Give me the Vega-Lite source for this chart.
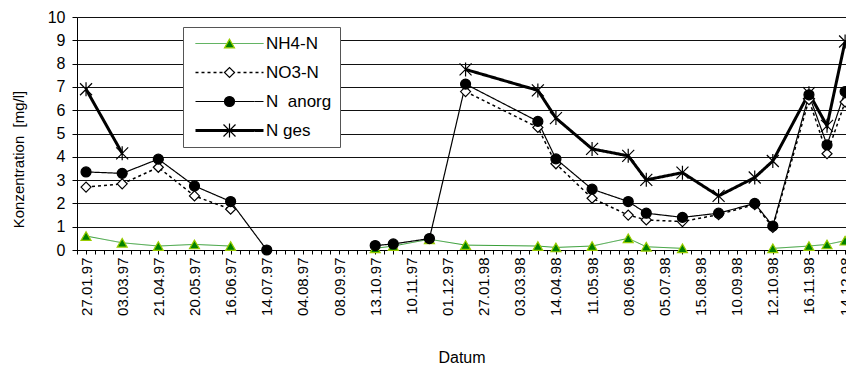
{
  "$schema": "https://vega.github.io/schema/vega-lite/v6.json",
  "width": 769,
  "height": 233,
  "autosize": {"type": "none"},
  "padding": {"left": 77, "top": 17, "right": 0, "bottom": 130},
  "background": "white",
  "config": {
    "font": "Liberation Sans",
    "view": {"stroke": null},
    "axis": {"labelColor": "#000", "titleColor": "#000", "domainColor": "#000", "tickColor": "#000", "titleFontWeight": "normal"}
  },
  "data": {
    "values": [
      {"Probe": 0, "Datum": "27.01.97", "NH4-N": 0.6, "NO3-N": 2.7, "N anorg": 3.35, "N ges": 6.9},
      {"Probe": 4, "Datum": "03.03.97", "NH4-N": 0.31, "NO3-N": 2.84, "N anorg": 3.29, "N ges": 4.15},
      {"Probe": 8, "Datum": "21.04.97", "NH4-N": 0.17, "NO3-N": 3.55, "N anorg": 3.9, "N ges": null},
      {"Probe": 12, "Datum": "20.05.97", "NH4-N": 0.24, "NO3-N": 2.32, "N anorg": 2.75, "N ges": null},
      {"Probe": 16, "Datum": "16.06.97", "NH4-N": 0.17, "NO3-N": 1.75, "N anorg": 2.08, "N ges": null},
      {"Probe": 20, "Datum": "14.07.97", "NH4-N": null, "NO3-N": null, "N anorg": 0, "N ges": null},
      {"Probe": 24, "Datum": "04.08.97", "NH4-N": null, "NO3-N": null, "N anorg": null, "N ges": null},
      {"Probe": 32, "Datum": "13.10.97", "NH4-N": 0.07, "NO3-N": null, "N anorg": 0.19, "N ges": null},
      {"Probe": 34, "Datum": "27.10.97", "NH4-N": 0.17, "NO3-N": null, "N anorg": 0.26, "N ges": null},
      {"Probe": 38, "Datum": "24.11.97", "NH4-N": 0.46, "NO3-N": null, "N anorg": 0.49, "N ges": null},
      {"Probe": 42, "Datum": "05.01.98", "NH4-N": 0.21, "NO3-N": 6.8, "N anorg": 7.12, "N ges": 7.75},
      {"Probe": 50, "Datum": "24.03.98", "NH4-N": 0.17, "NO3-N": 5.26, "N anorg": 5.52, "N ges": 6.85},
      {"Probe": 52, "Datum": "14.04.98", "NH4-N": 0.11, "NO3-N": 3.7, "N anorg": 3.91, "N ges": 5.66},
      {"Probe": 56, "Datum": "11.05.98", "NH4-N": 0.17, "NO3-N": 2.22, "N anorg": 2.61, "N ges": 4.34},
      {"Probe": 60, "Datum": "08.06.98", "NH4-N": 0.5, "NO3-N": 1.5, "N anorg": 2.08, "N ges": 4.04},
      {"Probe": 62, "Datum": "22.06.98", "NH4-N": 0.14, "NO3-N": 1.29, "N anorg": 1.58, "N ges": 3.01},
      {"Probe": 66, "Datum": "27.07.98", "NH4-N": 0.07, "NO3-N": 1.22, "N anorg": 1.4, "N ges": 3.32},
      {"Probe": 70, "Datum": "27.08.98", "NH4-N": null, "NO3-N": 1.52, "N anorg": 1.58, "N ges": 2.32},
      {"Probe": 74, "Datum": "28.09.98", "NH4-N": null, "NO3-N": 1.95, "N anorg": 2.0, "N ges": 3.11},
      {"Probe": 76, "Datum": "12.10.98", "NH4-N": 0.07, "NO3-N": 0.97, "N anorg": 1.03, "N ges": 3.82},
      {"Probe": 80, "Datum": "16.11.98", "NH4-N": 0.17, "NO3-N": 6.45, "N anorg": 6.66, "N ges": 6.73},
      {"Probe": 82, "Datum": "30.11.98", "NH4-N": 0.24, "NO3-N": 4.13, "N anorg": 4.51, "N ges": 5.33},
      {"Probe": 84, "Datum": "14.12.98", "NH4-N": 0.4, "NO3-N": 6.35, "N anorg": 6.8, "N ges": 8.95}
    ]
  },
  "transform": [
    {"fold": ["NH4-N", "NO3-N", "N anorg", "N ges"], "as": ["Reihe", "Wert"]}
  ],
  "encoding": {
    "x": {
      "field": "Probe", "type": "quantitative", "title": "Datum",
      "scale": {"domain": [-1, 84.1], "nice": false, "zero": false},
      "axis": {
        "tickCount": 85, "grid": false, "tickSize": 4, "labelAngle": -90, "labelFontSize": 15, "labelPadding": 3,
        "labelOverlap": false, "labelFlush": false, "labelBound": false,
        "labelExpr": "datum.value >= 0 && datum.value % 4 == 0 ? ['27.01.97','03.03.97','21.04.97','20.05.97','16.06.97','14.07.97','04.08.97','08.09.97','13.10.97','10.11.97','01.12.97','27.01.98','03.03.98','14.04.98','11.05.98','08.06.98','05.07.98','15.08.98','10.09.98','12.10.98','16.11.98','14.12.98'][datum.value / 4] : ''",
        "titleFontSize": 16, "titlePadding": 34
      }
    },
    "y": {
      "field": "Wert", "type": "quantitative", "title": "Konzentration\u00a0 [mg/l]",
      "scale": {"domain": [0, 10], "nice": false},
      "axis": {
        "values": [0, 1, 2, 3, 4, 5, 6, 7, 8, 9, 10], "grid": true, "gridColor": "#111", "gridWidth": 1,
        "tickSize": 5, "labelFontSize": 16, "labelPadding": 7,
        "titleFontSize": 15, "titleX": -54, "titleY": 142, "titleBaseline": "alphabetic", "titleAngle": 270
      }
    }
  },
  "layer": [
    {
      "mark": {"type": "line", "interpolate": "linear"},
      "encoding": {
        "color": {
          "field": "Reihe", "type": "nominal",
          "scale": {"domain": ["NH4-N", "NO3-N", "N anorg", "N ges"], "range": ["#2e9a2e", "#000000", "#000000", "#000000"]},
          "legend": {
            "title": null, "orient": "none", "legendX": 106, "legendY": 10,
            "fillColor": "white", "strokeColor": "#555", "padding": 8, "rowPadding": 11,
            "symbolType": "M-6.8,0H6.8", "symbolSize": 100, "symbolOffset": 30, "labelOffset": 28,
            "labelFontSize": 17, "labelColor": "#000",
            "labelExpr": "datum.label == 'N anorg' ? 'N\u00a0 anorg' : datum.label"
          }
        },
        "strokeDash": {
          "field": "Reihe", "type": "nominal",
          "scale": {"domain": ["NH4-N", "NO3-N", "N anorg", "N ges"], "range": [[1, 0], [3, 3], [1, 0], [1, 0]]}
        },
        "strokeWidth": {
          "field": "Reihe", "type": "nominal",
          "scale": {"type": "ordinal", "domain": ["NH4-N", "NO3-N", "N anorg", "N ges"], "range": [1, 1.5, 1.2, 3]}
        }
      }
    },
    {
      "transform": [{"filter": "isValid(datum.Wert)"}],
      "mark": {"type": "point", "filled": true, "size": 100, "strokeWidth": 1.2, "opacity": 1},
      "encoding": {
        "shape": {
          "field": "Reihe", "type": "nominal", "sort": null,
          "scale": {"range": ["triangle-up", "diamond", "circle", "M-1.2,-1.2L1.2,1.2M-1.2,1.2L1.2,-1.2M0,-1.4V1.4"]},
          "legend": {
            "title": null, "orient": "none", "legendX": 106, "legendY": 10,
            "padding": 8, "rowPadding": 11, "symbolSize": 100, "symbolStrokeWidth": 1.2,
            "symbolOffset": 30, "labelOffset": 28, "labelFontSize": 17, "labelExpr": "''",
            "symbolOpacity": 1
          }
        },
        "fill": {
          "field": "Reihe", "type": "nominal", "sort": null,
          "scale": {"range": ["#008000", "#ffffff", "#000000", "#000000"]}
        },
        "stroke": {
          "field": "Reihe", "type": "nominal", "sort": null,
          "scale": {"range": ["#99cc00", "#000000", "#000000", "#000000"]}
        }
      }
    }
  ]
}
